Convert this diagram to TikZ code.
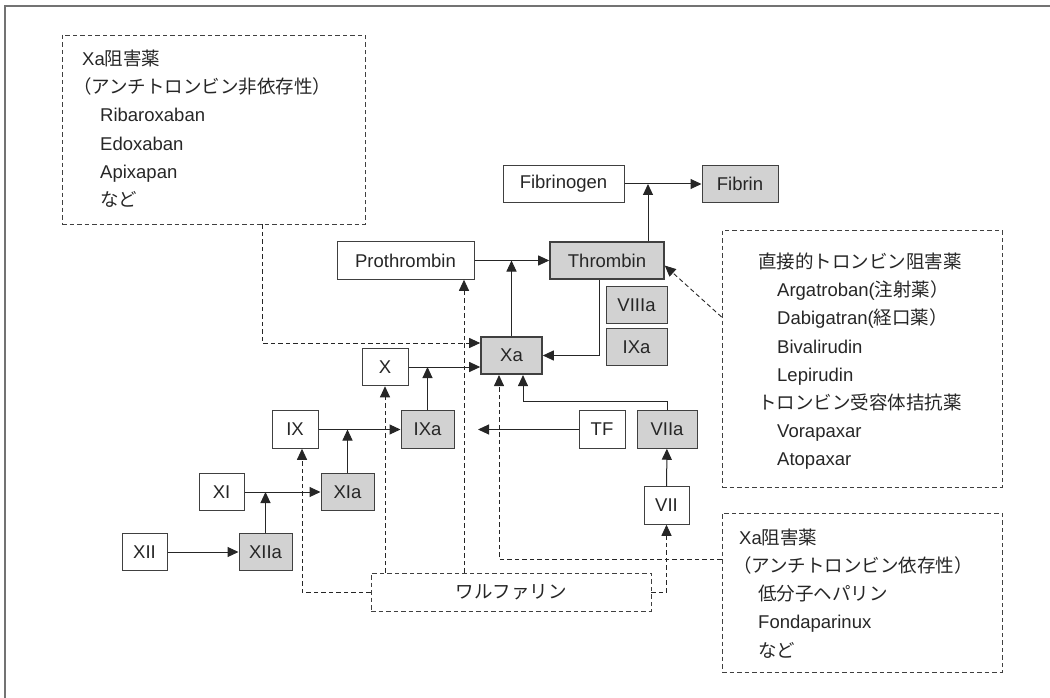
\documentclass[tikz,border=0pt]{standalone}
\usepackage{fontspec}
\setmainfont{Liberation Sans}
\newfontfamily\jp{Noto Sans CJK JP}
\usetikzlibrary{arrows.meta}
\begin{document}
\begin{tikzpicture}[x=1pt,y=-1pt]
	\tikzstyle{every node}+=[inner sep=0pt, font=\fontsize{18.5}{28.2}\selectfont, text=black!85]
	\tikzstyle{factor}=[draw=black!75, line width=1pt, fill=white, minimum height=37.5pt]
	\tikzstyle{active}=[factor, fill=gray!35]
	\tikzstyle{enzyme}=[active, line width=1.6pt]
	\tikzstyle{drugbox}=[draw=black!75, line width=0.8pt, dash pattern=on 4.5pt off 3pt]
	\tikzstyle{conn}=[draw=black!85, line width=1pt, -{Triangle[length=11pt,width=10pt]}]
	\tikzstyle{inhib}=[conn, line width=0.9pt, dash pattern=on 4.5pt off 3pt]
	\useasboundingbox (0,0) rectangle (1050,698);
	\draw [black!55, line width=1.3pt] (5,698) -- (5,6) -- (1050,6);
	% factors
	\node [factor, minimum width=121pt] (fibrinogen) at (563.5,184) {Fibrinogen};
	\node [active, minimum width=76pt] (fibrin) at (740,184) {Fibrin};
	\node [factor, minimum width=137pt] (proth) at (405.5,260.5) {Prothrombin};
	\node [enzyme, minimum width=114pt] (thromb) at (607,260.5) {Thrombin};
	\node [active, minimum width=61pt] (viiia) at (636.5,305) {VIIIa};
	\node [active, minimum width=61pt] (ixaco) at (636.5,347) {IXa};
	\node [enzyme, minimum width=61pt] (xa) at (511.5,355.5) {Xa};
	\node [factor, minimum width=46pt] (x) at (385,367) {X};
	\node [factor, minimum width=46pt] (ix) at (295,429.5) {IX};
	\node [active, minimum width=53pt] (ixa) at (427.5,429.5) {IXa};
	\node [factor, minimum width=46pt] (tf) at (602,429.5) {TF};
	\node [active, minimum width=60pt] (viia) at (667,429.5) {VIIa};
	\node [factor, minimum width=45pt] (vii) at (666.5,505.5) {VII};
	\node [factor, minimum width=45pt] (xi) at (221.5,492) {XI};
	\node [active, minimum width=53pt] (xia) at (347.5,492) {XIa};
	\node [factor, minimum width=45pt] (xii) at (144.5,552) {XII};
	\node [active, minimum width=53pt] (xiia) at (265.5,552) {XIIa};
	% drug boxes (text anchored on its last baseline)
	\node [drugbox, minimum width=303pt, minimum height=189pt] (inhA) at (213.5,129.5) {};
	\node [anchor=base west, align=left] (inhAtxt) at (73,206.5) {\hspace*{9pt}Xa{\jp 阻害薬}\\
		{\jp （アンチトロンビン非依存性）}\\
		\hspace*{27pt}Ribaroxaban\\
		\hspace*{27pt}Edoxaban\\
		\hspace*{27pt}Apixapan\\
		\hspace*{27pt}{\jp など}};
	\node [drugbox, minimum width=280pt, minimum height=257pt] (dti) at (862,358.5) {};
	\node [anchor=base west, align=left] (dtitxt) at (758,465.8) {{\jp 直接的トロンビン阻害薬}\\
		\hspace*{19pt}Argatroban({\jp 注射薬）}\\
		\hspace*{19pt}Dabigatran({\jp 経口薬）}\\
		\hspace*{19pt}Bivalirudin\\
		\hspace*{19pt}Lepirudin\\
		{\jp トロンビン受容体拮抗薬}\\
		\hspace*{19pt}Vorapaxar\\
		\hspace*{19pt}Atopaxar};
	\node [drugbox, minimum width=280pt, minimum height=159pt] (inhB) at (862,592.5) {};
	\node [anchor=base west, align=left] (inhBtxt) at (733,657) {\hspace*{6pt}Xa{\jp 阻害薬}\\
		{\jp （アンチトロンビン依存性）}\\
		\hspace*{25pt}{\jp 低分子ヘパリン}\\
		\hspace*{25pt}Fondaparinux\\
		\hspace*{25pt}{\jp など}};
	\node [drugbox, minimum width=280pt, minimum height=38pt] (warf) at (511,592) {\jp ワルファリン};
	% cascade
	\coordinate (jfib) at (648,184);
	\draw [conn] (fibrinogen) -- (fibrin);
	\draw [conn] (thromb.north -| jfib) -- (jfib);
	\draw [conn] (proth) -- (thromb);
	\draw [conn] (xa.north) -- (xa.north |- proth.east);
	\coordinate (jthr) at (599,0);
	\draw [conn] (thromb.south -| jthr) |- (xa.east);
	\draw [conn] (x) -- (x -| xa.west);
	\draw [conn] (ixa.north) -- (ixa.north |- x.east);
	\draw [conn] (ix) -- (ixa);
	\draw [conn] (xia.north) -- (xia.north |- ix.east);
	\draw [conn] (xi) -- (xia);
	\draw [conn] (xiia.north) -- (xiia.north |- xi.east);
	\draw [conn] (xii) -- (xiia);
	\coordinate (tfend) at (478,429.5);
	\draw [conn] (tf) -- (tfend);
	\coordinate (jvii) at (523,401);
	\draw [conn] (viia.north) |- (jvii) -- (jvii |- xa.south);
	\draw [conn] (vii) -- (viia);
	% inhibitors
	\coordinate (jinhA) at (262,343);
	\draw [inhib] (inhA.south -| jinhA) |- (xa.west |- jinhA);
	\coordinate (jix) at (302,0);
	\draw [inhib] (warf.west) -| (ix.south -| jix);
	\draw [inhib] (x.south |- warf.north) -- (x.south);
	\coordinate (jpro) at (464,0);
	\draw [inhib] (warf.north -| jpro) -- (proth.south -| jpro);
	\draw [inhib] (warf.east) -| (vii.south);
	\coordinate (jinhB) at (499,559);
	\draw [inhib] (inhB.west |- jinhB) -| (xa.south -| jinhB);
	\coordinate (jdti) at (720,317);
	\draw [inhib] (dti.west |- jdti) -- (thromb.-5);
\end{tikzpicture}
\end{document}
